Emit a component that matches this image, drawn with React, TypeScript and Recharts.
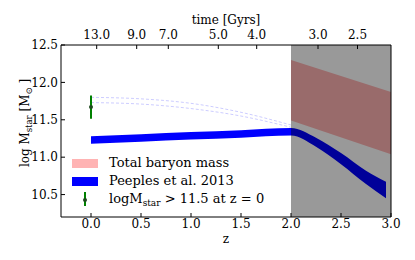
import {
  ComposedChart,
  Area,
  Line,
  Scatter,
  ErrorBar,
  XAxis,
  YAxis,
  ReferenceArea,
  Legend,
  Label,
} from 'recharts'

const FONT = "'DejaVu Serif', 'Liberation Serif', serif"

// bottom axis (redshift) and left axis (log stellar mass)
const zTicks = [0, 0.5, 1.0, 1.5, 2.0, 2.5, 3.0]
const massTicks = [10.5, 11.0, 11.5, 12.0, 12.5]

// top axis: cosmic time, placed at the matching redshift
const timeTickZ = [0.057, 0.457, 0.773, 1.273, 1.657, 2.27, 2.665]
const timeTickLabels = ['13.0', '9.0', '7.0', '5.0', '4.0', '3.0', '2.5']

// Total baryon mass band
const baryonZ = [2.0, 3.0]
const baryonLow = [11.49, 11.04]
const baryonHigh = [12.3, 11.87]

// Peeples et al. 2013 (centre and half width)
const peeplesZ = [0, 0.5, 1.0, 1.5, 2.0, 2.25, 2.5, 2.75, 2.95]
const peeplesMass = [11.23, 11.255, 11.285, 11.31, 11.34, 11.2, 10.98, 10.73, 10.56]
const peeplesErr = [0.05, 0.05, 0.05, 0.05, 0.05, 0.06, 0.075, 0.09, 0.11]

// faint dashed tracks from the z=0 massive galaxies
const trackZ = [0, 0.5, 1.0, 1.5, 2.0]
const trackUpper = [11.8, 11.78, 11.72, 11.6, 11.43]
const trackLower = [11.73, 11.71, 11.65, 11.55, 11.4]

// logMstar > 11.5 at z = 0
const massiveZ = [0]
const massiveMass = [11.67]
const massiveErr = [0.155]

const baryonData = baryonZ.map((z, i) => ({ z, range: [baryonLow[i], baryonHigh[i]] }))
const peeplesData = peeplesZ.map((z, i) => ({
  z,
  range: [peeplesMass[i] - peeplesErr[i], peeplesMass[i] + peeplesErr[i]],
}))
const upperData = trackZ.map((z, i) => ({ z, m: trackUpper[i] }))
const lowerData = trackZ.map((z, i) => ({ z, m: trackLower[i] }))
const massiveData = massiveZ.map((z, i) => ({ z, m: massiveMass[i], err: massiveErr[i] }))

const tickStyle = { fill: '#000', fontSize: 12, fontFamily: FONT }

function YTitle(props: any) {
  const vb = props.viewBox
  const cx = vb.x + 29
  const cy = vb.y + vb.height / 2 - 8
  return (
    <text
      x={cx}
      y={cy}
      transform={`rotate(-90, ${cx}, ${cy})`}
      textAnchor="middle"
      fontFamily={FONT}
      fontSize={12}
      fill="#000"
    >
      log M
      <tspan fontSize={8.5} dy={3}>star</tspan>
      <tspan dy={-3}> [M</tspan>
      <tspan fontSize={8.5} dy={3}>⊙</tspan>
      <tspan dy={-3}> ]</tspan>
    </text>
  )
}

function LegendBox() {
  const row = { display: 'flex', alignItems: 'center', height: 18 }
  const icon = { width: 26, height: 9, marginRight: 11 }
  return (
    <div style={{ fontFamily: FONT, fontSize: 13, color: '#000', lineHeight: '14px' }}>
      <div style={row}>
        <div style={{ ...icon, background: '#ffb3b3' }} />
        <span>Total baryon mass</span>
      </div>
      <div style={row}>
        <div style={{ ...icon, background: '#0000ff' }} />
        <span>Peeples et al. 2013</span>
      </div>
      <div style={row}>
        <div style={{ ...icon, height: 14, position: 'relative' }}>
          <div style={{ position: 'absolute', left: 12, top: 0, width: 2, height: 14, background: '#008000' }} />
          <div
            style={{
              position: 'absolute',
              left: 11,
              top: 5.5,
              width: 4,
              height: 4,
              borderRadius: 2,
              background: '#1f4a1f',
            }}
          />
        </div>
        <span>
          logM<span style={{ fontSize: 9, position: 'relative', top: 3 }}>star</span> &gt; 11.5 at z = 0
        </span>
      </div>
    </div>
  )
}

export default function App() {
  return (
    <div style={{ position: 'absolute', left: 0, top: 0, width: 415, height: 260, background: '#fff' }}>
      <ComposedChart width={415} height={260} margin={{ top: 0, right: 23, bottom: 0, left: 0 }}>
        <XAxis
          type="number"
          dataKey="z"
          domain={[-0.3, 3]}
          ticks={zTicks}
          tickFormatter={(v: number) => v.toFixed(1)}
          height={43}
          tick={tickStyle}
          tickSize={-4}
          tickMargin={6}
          stroke="#000"
          allowDataOverflow
        >
          <Label value="z" position="insideBottom" offset={17} fill="#000" fontSize={12} fontFamily={FONT} />
        </XAxis>
        <XAxis
          xAxisId="top"
          orientation="top"
          type="number"
          dataKey="z"
          domain={[-0.3, 3]}
          ticks={timeTickZ}
          tickFormatter={(_v: number, i: number) => timeTickLabels[i]}
          height={45}
          tick={tickStyle}
          tickSize={-4}
          tickMargin={10}
          stroke="#000"
          allowDataOverflow
        >
          <Label value="time [Gyrs]" position="insideTop" offset={15} fill="#000" fontSize={12} fontFamily={FONT} />
        </XAxis>
        <YAxis
          type="number"
          domain={[10.2, 12.5]}
          ticks={massTicks}
          tickFormatter={(v: number) => v.toFixed(1)}
          width={61}
          tick={tickStyle}
          tickSize={-4}
          tickMargin={7}
          stroke="#000"
          allowDataOverflow
        >
          <Label content={YTitle} />
        </YAxis>
        <YAxis
          yAxisId="right"
          orientation="right"
          type="number"
          domain={[10.2, 12.5]}
          ticks={massTicks}
          width={1}
          tick={false}
          tickSize={-4}
          stroke="#000"
          allowDataOverflow
        />

        <Area
          data={baryonData}
          dataKey="range"
          type="linear"
          fill="#ff0000"
          fillOpacity={0.3}
          stroke="none"
          isAnimationActive={false}
        />
        <Area
          data={peeplesData}
          dataKey="range"
          type="monotone"
          fill="#0000ff"
          fillOpacity={1}
          stroke="none"
          isAnimationActive={false}
        />
        <Line
          data={upperData}
          dataKey="m"
          type="monotone"
          stroke="#0000ff"
          strokeOpacity={0.2}
          strokeWidth={1}
          strokeDasharray="3 2"
          dot={false}
          isAnimationActive={false}
        />
        <Line
          data={lowerData}
          dataKey="m"
          type="monotone"
          stroke="#0000ff"
          strokeOpacity={0.2}
          strokeWidth={1}
          strokeDasharray="3 2"
          dot={false}
          isAnimationActive={false}
        />
        <Scatter
          data={massiveData}
          dataKey="m"
          fill="#1f4a1f"
          shape={(p: any) => <circle cx={p.cx} cy={p.cy} r={2} fill="#1f4a1f" />}
          isAnimationActive={false}
        >
          <ErrorBar dataKey="err" direction="y" width={0} stroke="#008000" strokeWidth={2} />
        </Scatter>
        <ReferenceArea x1={2} x2={3} fill="#000" fillOpacity={0.4} stroke="none" zIndex={450} />

        <Legend
          layout="vertical"
          align="center"
          verticalAlign="middle"
          wrapperStyle={{ left: 72, top: 154, width: 'auto', height: 'auto' }}
          content={() => <LegendBox />}
        />
      </ComposedChart>
    </div>
  )
}
